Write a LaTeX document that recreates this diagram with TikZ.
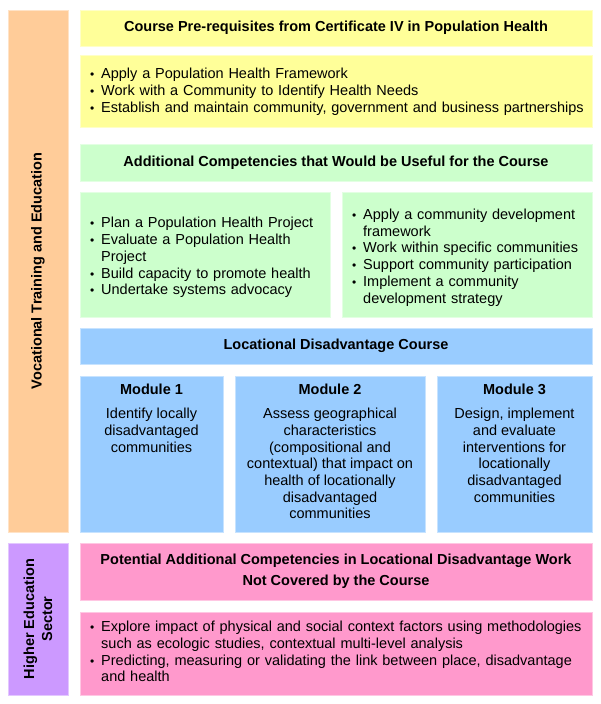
\documentclass[tikz,border=0pt]{standalone}
\usepackage{fontspec}
\setmainfont{Liberation Sans}
\usetikzlibrary{positioning}

\definecolor{vocorange}{HTML}{FFCC99}
\definecolor{hespurple}{HTML}{CC99FF}
\definecolor{preyellow}{HTML}{FFFF99}
\definecolor{addgreen}{HTML}{CCFFCC}
\definecolor{courseblue}{HTML}{99CCFF}
\definecolor{potpink}{HTML}{FF99CC}

% one bullet item, continuation lines hang under the text
\newcommand{\bitem}{\par\hangindent=11pt\hangafter=1\noindent\makebox[11pt][l]{\fontsize{12}{12}\selectfont\textbullet}}

\begin{document}
\begin{tikzpicture}[x=1pt, y=-1pt,
  every node/.style={font=\fontsize{14.5}{16.7}\selectfont},
  box/.style={anchor=north west, inner sep=0pt, outer sep=0pt, fill=#1, draw=white!45!#1, line width=0.6pt},
  title/.style={font=\bfseries\fontsize{14.5}{16.7}\selectfont},
  listtext/.style={text width=#1, inner sep=0pt, anchor=west},
  modtext/.style={align=center, inner sep=0pt}]
\useasboundingbox (0,0) rectangle (600,704);

% side bars
\node[box=vocorange, minimum width=60, minimum height=522] (voc) at (8,10) {};
\node[title, rotate=90] (voclab) at (voc.center) {Vocational Training and Education};
\node[box=hespurple, minimum width=60, minimum height=152] (hes) at (8,543) {};
\node[title, rotate=90, align=center, font=\bfseries\fontsize{14.5}{18}\selectfont] (heslab) at (hes.center) {Higher Education\\Sector};

% pre-requisites
\node[box=preyellow, title, minimum width=512, minimum height=36] (pre) at (80,10)
  {Course Pre-requisites from Certificate IV in Population Health};
\node[box=preyellow, minimum width=512, minimum height=72] (prelist) at (80,55) {};
\node[listtext=500] (prelistx) at ([xshift=10pt, yshift=2.5pt]prelist.west)
  {\bitem Apply a Population Health Framework
   \bitem Work with a Community to Identify Health Needs
   \bitem Establish and maintain community, government and business partnerships\par};

% additional competencies
\node[box=addgreen, title, minimum width=512, minimum height=37] (add) at (80,144)
  {Additional Competencies that Would be Useful for the Course};
\node[box=addgreen, minimum width=250, minimum height=125] (addleft) at (80,192) {};
\node[listtext=238] (addleftx) at ([xshift=10pt]addleft.west)
  {\bitem Plan a Population Health Project
   \bitem Evaluate a Population Health\newline Project
   \bitem Build capacity to promote health
   \bitem Undertake systems advocacy\par};
\node[box=addgreen, minimum width=250, minimum height=125] (addright) at (342,192) {};
\node[listtext=238] (addrightx) at ([xshift=10pt]addright.west)
  {\bitem Apply a community development\newline framework
   \bitem Work within specific communities
   \bitem Support community participation
   \bitem Implement a community\newline development strategy\par};

% course and modules
\node[box=courseblue, title, minimum width=512, minimum height=36] (course) at (80,328)
  {Locational Disadvantage Course};
\node[box=courseblue, minimum width=143, minimum height=156] (mod1) at (80,376) {};
\node[box=courseblue, minimum width=190, minimum height=156] (mod2) at (235,376) {};
\node[box=courseblue, minimum width=155, minimum height=156] (mod3) at (437,376) {};
\node[title, anchor=north, inner sep=0pt, below=8pt of mod1.north] (mod1t) {Module 1};
\node[title, anchor=north, inner sep=0pt, below=8pt of mod2.north] (mod2t) {Module 2};
\node[title, anchor=north, inner sep=0pt, below=8pt of mod3.north] (mod3t) {Module 3};
\node[modtext, below=13pt of mod1t] (mod1x) {Identify locally\\disadvantaged\\communities};
\node[modtext, below=13pt of mod2t] (mod2x) {Assess geographical\\characteristics\\(compositional and\\contextual) that impact on\\health of locationally\\disadvantaged\\communities};
\node[modtext, below=13pt of mod3t] (mod3x) {Design, implement\\and evaluate\\interventions for\\locationally\\disadvantaged\\communities};

% higher education
\node[box=potpink, title, align=center, font=\bfseries\fontsize{14.5}{20.7}\selectfont, minimum width=512, minimum height=57] (pot) at (80,543)
  {Potential Additional Competencies in Locational Disadvantage Work\\Not Covered by the Course};
\node[box=potpink, minimum width=512, minimum height=83] (potlist) at (80,612) {};
\node[listtext=500] (potlistx) at ([xshift=10pt, yshift=5pt]potlist.west)
  {\bitem Explore impact of physical and social context factors using methodologies\newline such as ecologic studies, contextual multi-level analysis
   \bitem Predicting, measuring or validating the link between place, disadvantage\newline and health\par};
\end{tikzpicture}
\end{document}
